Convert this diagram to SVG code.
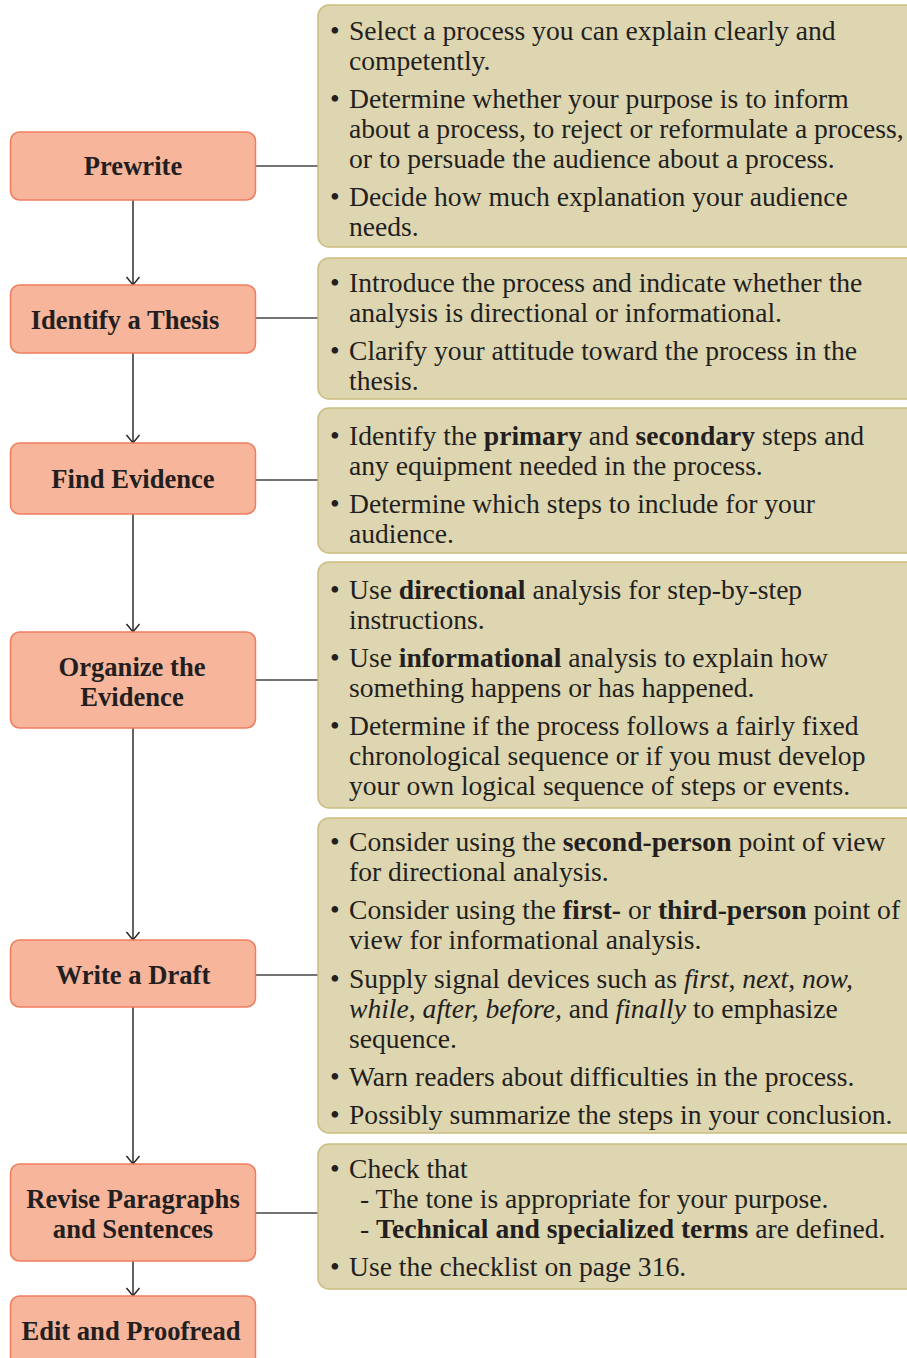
<svg xmlns="http://www.w3.org/2000/svg" width="907" height="1358" viewBox="0 0 907 1358">
<style>
.step{fill:#F7B59B;stroke:#EF7D5E;stroke-width:1.5}
.note{fill:#DDD6B1;stroke:#CCBD7E;stroke-width:1.5}
.lbl{font-family:"Liberation Serif",serif;font-weight:bold;font-size:26.6px;fill:#231F20;text-anchor:middle}
.txt{font-family:"Liberation Serif",serif;font-size:27.6px;fill:#231F20}
.b{font-weight:bold}
.i{font-style:italic}
.arr{stroke:#231F20;stroke-width:1.4;fill:none}
.con{stroke:#444;stroke-width:1.4;fill:none}
</style>
<defs>
<marker id="ah" markerWidth="12" markerHeight="16" refX="9" refY="7" orient="auto" markerUnits="userSpaceOnUse">
<path d="M1,0.5 L9,7 L1,13.5" fill="none" stroke="#231F20" stroke-width="1.4"/>
</marker>
</defs>
<g id="connectors">
<line class="arr" x1="133" y1="200" x2="133" y2="285" marker-end="url(#ah)"/>
<line class="arr" x1="133" y1="353" x2="133" y2="443" marker-end="url(#ah)"/>
<line class="arr" x1="133" y1="514" x2="133" y2="632" marker-end="url(#ah)"/>
<line class="arr" x1="133" y1="728" x2="133" y2="940" marker-end="url(#ah)"/>
<line class="arr" x1="133" y1="1007" x2="133" y2="1164" marker-end="url(#ah)"/>
<line class="arr" x1="133" y1="1261" x2="133" y2="1296" marker-end="url(#ah)"/>
<line class="con" x1="255" y1="166" x2="318" y2="166"/>
<line class="con" x1="255" y1="318" x2="318" y2="318"/>
<line class="con" x1="255" y1="480" x2="318" y2="480"/>
<line class="con" x1="255" y1="680" x2="318" y2="680"/>
<line class="con" x1="255" y1="975" x2="318" y2="975"/>
<line class="con" x1="255" y1="1213" x2="318" y2="1213"/>
</g>
<g id="prewrite">
<rect class="step" x="10.5" y="132" width="245" height="68" rx="9"/>
<text class="lbl" x="133" y="175">Prewrite</text>
</g>
<g id="thesis">
<rect class="step" x="10.5" y="285" width="245" height="68" rx="9"/>
<text class="lbl" x="125" y="329">Identify a Thesis</text>
</g>
<g id="evidence">
<rect class="step" x="10.5" y="443" width="245" height="71" rx="9"/>
<text class="lbl" x="133" y="488">Find Evidence</text>
</g>
<g id="organize">
<rect class="step" x="10.5" y="632" width="245" height="96" rx="9"/>
<text class="lbl" x="132" y="676">Organize the</text>
<text class="lbl" x="132" y="706">Evidence</text>
</g>
<g id="draft">
<rect class="step" x="10.5" y="940" width="245" height="67" rx="9"/>
<text class="lbl" x="133" y="984">Write a Draft</text>
</g>
<g id="revise">
<rect class="step" x="10.5" y="1164" width="245" height="97" rx="9"/>
<text class="lbl" x="133" y="1208">Revise Paragraphs</text>
<text class="lbl" x="133" y="1238">and Sentences</text>
</g>
<g id="edit">
<rect class="step" x="10.5" y="1296" width="245" height="80" rx="9"/>
<text class="lbl" x="131" y="1340">Edit and Proofread</text>
</g>
<g id="note-prewrite">
<rect class="note" x="318" y="5" width="620" height="242" rx="11"/>
<text class="txt"><tspan x="330" y="40">•</tspan><tspan x="349" y="40">Select a process you can explain clearly and</tspan>
<tspan x="349" y="70">competently.</tspan>
<tspan x="330" y="108">•</tspan><tspan x="349" y="108">Determine whether your purpose is to inform</tspan>
<tspan x="349" y="138">about a process, to reject or reformulate a process,</tspan>
<tspan x="349" y="168">or to persuade the audience about a process.</tspan>
<tspan x="330" y="206">•</tspan><tspan x="349" y="206">Decide how much explanation your audience</tspan>
<tspan x="349" y="236">needs.</tspan></text>
</g>
<g id="note-thesis">
<rect class="note" x="318" y="258" width="620" height="141" rx="11"/>
<text class="txt"><tspan x="330" y="292">•</tspan><tspan x="349" y="292">Introduce the process and indicate whether the</tspan>
<tspan x="349" y="322">analysis is directional or informational.</tspan>
<tspan x="330" y="360">•</tspan><tspan x="349" y="360">Clarify your attitude toward the process in the</tspan>
<tspan x="349" y="390">thesis.</tspan></text>
</g>
<g id="note-evidence">
<rect class="note" x="318" y="408" width="620" height="145" rx="11"/>
<text class="txt"><tspan x="330" y="445">•</tspan><tspan x="349" y="445">Identify the <tspan class="b">primary</tspan> and <tspan class="b">secondary</tspan> steps and</tspan>
<tspan x="349" y="475">any equipment needed in the process.</tspan>
<tspan x="330" y="513">•</tspan><tspan x="349" y="513">Determine which steps to include for your</tspan>
<tspan x="349" y="543">audience.</tspan></text>
</g>
<g id="note-organize">
<rect class="note" x="318" y="562" width="620" height="246" rx="11"/>
<text class="txt"><tspan x="330" y="599">•</tspan><tspan x="349" y="599">Use <tspan class="b">directional</tspan> analysis for step-by-step</tspan>
<tspan x="349" y="629">instructions.</tspan>
<tspan x="330" y="667">•</tspan><tspan x="349" y="667">Use <tspan class="b">informational</tspan> analysis to explain how</tspan>
<tspan x="349" y="697">something happens or has happened.</tspan>
<tspan x="330" y="735">•</tspan><tspan x="349" y="735">Determine if the process follows a fairly fixed</tspan>
<tspan x="349" y="765">chronological sequence or if you must develop</tspan>
<tspan x="349" y="795">your own logical sequence of steps or events.</tspan></text>
</g>
<g id="note-draft">
<rect class="note" x="318" y="818" width="620" height="315" rx="11"/>
<text class="txt"><tspan x="330" y="851">•</tspan><tspan x="349" y="851">Consider using the <tspan class="b">second-person</tspan> point of view</tspan>
<tspan x="349" y="881">for directional analysis.</tspan>
<tspan x="330" y="919">•</tspan><tspan x="349" y="919">Consider using the <tspan class="b">first-</tspan> or <tspan class="b">third-person</tspan> point of</tspan>
<tspan x="349" y="949">view for informational analysis.</tspan>
<tspan x="330" y="988">•</tspan><tspan x="349" y="988">Supply signal devices such as <tspan class="i">first</tspan>, <tspan class="i">next</tspan>, <tspan class="i">now,</tspan></tspan>
<tspan x="349" y="1018"><tspan class="i">while</tspan>, <tspan class="i">after, before,</tspan> and <tspan class="i">finally</tspan> to emphasize</tspan>
<tspan x="349" y="1048">sequence.</tspan>
<tspan x="330" y="1086">•</tspan><tspan x="349" y="1086">Warn readers about difficulties in the process.</tspan>
<tspan x="330" y="1124">•</tspan><tspan x="349" y="1124">Possibly summarize the steps in your conclusion.</tspan></text>
</g>
<g id="note-revise">
<rect class="note" x="318" y="1144" width="620" height="145" rx="11"/>
<text class="txt"><tspan x="330" y="1178">•</tspan><tspan x="349" y="1178">Check that</tspan>
<tspan x="360" y="1208">- The tone is appropriate for your purpose.</tspan>
<tspan x="360" y="1238">- <tspan class="b">Technical and specialized terms</tspan> are defined.</tspan>
<tspan x="330" y="1276">•</tspan><tspan x="349" y="1276">Use the checklist on page 316.</tspan></text>
</g>
</svg>
